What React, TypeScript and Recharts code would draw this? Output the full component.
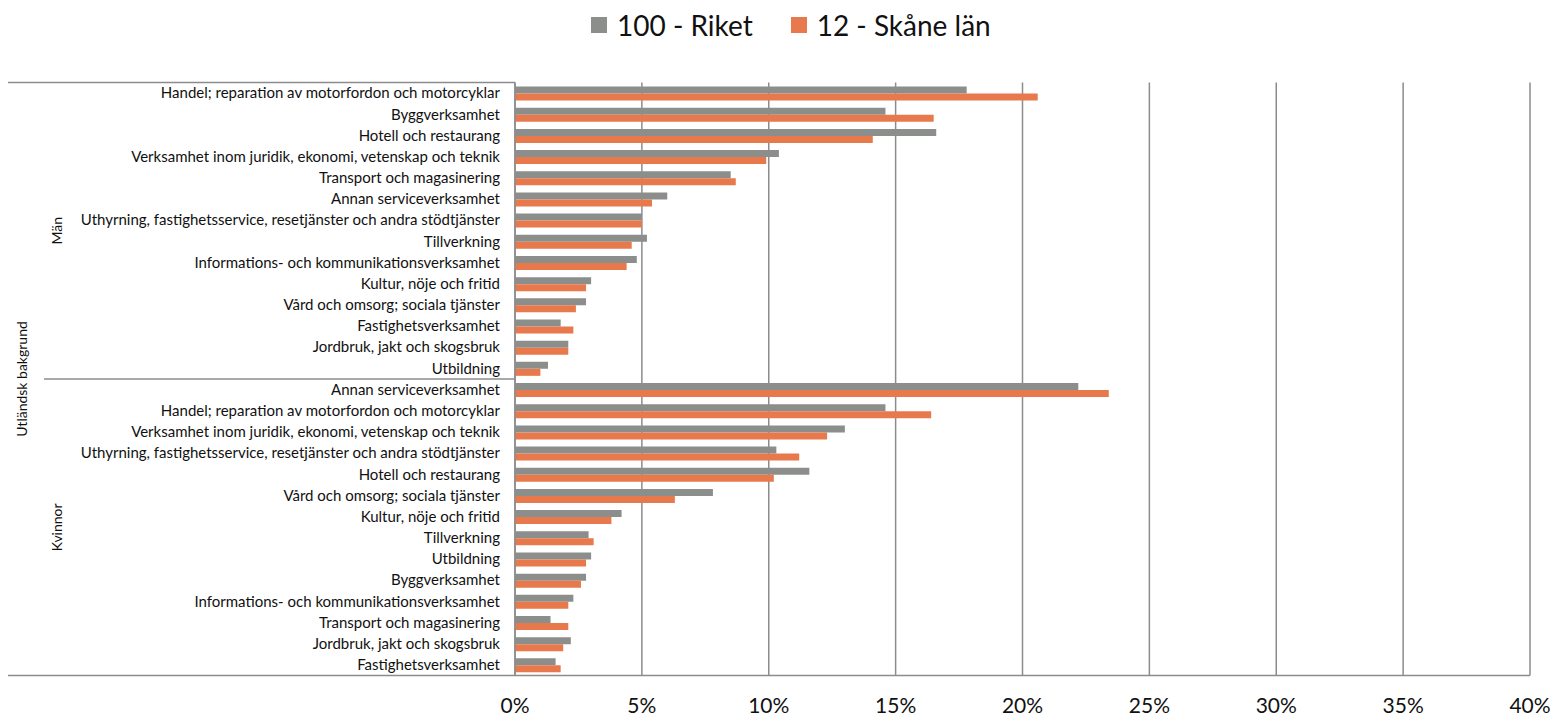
import React from 'react';
import { BarChart, Bar, XAxis, YAxis, CartesianGrid, Legend } from 'recharts';

const menCategories = [
  'Handel; reparation av motorfordon och motorcyklar',
  'Byggverksamhet',
  'Hotell och restaurang',
  'Verksamhet inom juridik, ekonomi, vetenskap och teknik',
  'Transport och magasinering',
  'Annan serviceverksamhet',
  'Uthyrning, fastighetsservice, resetjänster och andra stödtjänster',
  'Tillverkning',
  'Informations- och kommunikationsverksamhet',
  'Kultur, nöje och fritid',
  'Vård och omsorg; sociala tjänster',
  'Fastighetsverksamhet',
  'Jordbruk, jakt och skogsbruk',
  'Utbildning',
];
const womenCategories = [
  'Annan serviceverksamhet',
  'Handel; reparation av motorfordon och motorcyklar',
  'Verksamhet inom juridik, ekonomi, vetenskap och teknik',
  'Uthyrning, fastighetsservice, resetjänster och andra stödtjänster',
  'Hotell och restaurang',
  'Vård och omsorg; sociala tjänster',
  'Kultur, nöje och fritid',
  'Tillverkning',
  'Utbildning',
  'Byggverksamhet',
  'Informations- och kommunikationsverksamhet',
  'Transport och magasinering',
  'Jordbruk, jakt och skogsbruk',
  'Fastighetsverksamhet',
];

const riketMen = [17.8, 14.6, 16.6, 10.4, 8.5, 6.0, 5.0, 5.2, 4.8, 3.0, 2.8, 1.8, 2.1, 1.3];
const skaneMen = [20.6, 16.5, 14.1, 9.9, 8.7, 5.4, 5.0, 4.6, 4.4, 2.8, 2.4, 2.3, 2.1, 1.0];
const riketWomen = [22.2, 14.6, 13.0, 10.3, 11.6, 7.8, 4.2, 2.9, 3.0, 2.8, 2.3, 1.4, 2.2, 1.6];
const skaneWomen = [23.4, 16.4, 12.3, 11.2, 10.2, 6.3, 3.8, 3.1, 2.8, 2.6, 2.1, 2.1, 1.9, 1.8];

const xTicks = [0, 5, 10, 15, 20, 25, 30, 35, 40];
const groupLabels = ['Män', 'Kvinnor'];
const outerLabel = 'Utländsk bakgrund';
const seriesNames = ['100 - Riket', '12 - Skåne län'];

const GRAY = '#8B8E8B';
const ORANGE = '#E8794C';
const LINE = '#8C8C8C';
const FONT = 'Lato, "Noto Sans", sans-serif';
const LABEL_SIZE = 15;

const allLabels = [...menCategories, ...womenCategories];
const data = [
  ...menCategories.map((c, i) => ({ key: `m${i}`, label: c, riket: riketMen[i], skane: skaneMen[i] })),
  ...womenCategories.map((c, i) => ({ key: `k${i}`, label: c, riket: riketWomen[i], skane: skaneWomen[i] })),
];

const TICK_SIZE = 6;
const TICK_MARGIN = 9;
const LEFT_EDGE = 8;
const GROUP_EDGE = 44;

const CategoryTick = (props: any) => {
  const { x, y, payload } = props;
  const i: number = payload.index ?? props.index;
  const half: number = payload.offset ?? 0;
  const band = half * 2;
  const axisRight = x + TICK_SIZE + TICK_MARGIN;
  const n = allLabels.length;
  const nm = menCategories.length;
  const els: React.ReactNode[] = [];
  els.push(
    <text key="t" x={x} y={y} dy="0.35em" textAnchor="end" fontSize={LABEL_SIZE} fontFamily={FONT} fill="#111">
      {allLabels[i]}
    </text>
  );
  if (i === 0) {
    const top = y - half;
    els.push(<line key="top" x1={LEFT_EDGE} x2={axisRight} y1={top} y2={top} stroke={LINE} strokeWidth={1.5} />);
    const menMid = top + (nm / 2) * band;
    const womenMid = top + (nm + (n - nm) / 2) * band;
    const allMid = top + (n / 2) * band;
    els.push(
      <text key="g0" x={57} y={menMid} transform={`rotate(-90 57 ${menMid})`} textAnchor="middle" dy="0.35em" fontSize={14} fontFamily={FONT} fill="#111">{groupLabels[0]}</text>
    );
    els.push(
      <text key="g1" x={57} y={womenMid} transform={`rotate(-90 57 ${womenMid})`} textAnchor="middle" dy="0.35em" fontSize={14} fontFamily={FONT} fill="#111">{groupLabels[1]}</text>
    );
    els.push(
      <text key="g2" x={22} y={allMid} transform={`rotate(-90 22 ${allMid})`} textAnchor="middle" dy="0.35em" fontSize={14} fontFamily={FONT} fill="#111">{outerLabel}</text>
    );
  }
  if (i === nm) {
    const top = y - half;
    els.push(<line key="sep" x1={GROUP_EDGE} x2={axisRight} y1={top} y2={top} stroke={LINE} strokeWidth={1.5} />);
  }
  if (i === n - 1) {
    const bottom = y + half;
    els.push(<line key="bot" x1={LEFT_EDGE} x2={axisRight} y1={bottom} y2={bottom} stroke={LINE} strokeWidth={1.5} />);
  }
  return <g>{els}</g>;
};

const LegendContent = () => (
  <div style={{ display: 'flex', alignItems: 'center', fontFamily: FONT, fontSize: 28, color: '#111', whiteSpace: 'nowrap', lineHeight: '32px' }}>
    <span style={{ display: 'inline-block', width: 16, height: 16, background: GRAY, marginRight: 10 }} />
    <span style={{ marginRight: 38 }}>{seriesNames[0]}</span>
    <span style={{ display: 'inline-block', width: 16, height: 16, background: ORANGE, marginRight: 10 }} />
    <span>{seriesNames[1]}</span>
  </div>
);

export default function App() {
  return (
    <div style={{ position: 'absolute', left: 0, top: 0, width: 1554, height: 720, background: '#fff' }}>
      <BarChart
        width={1554}
        height={720}
        data={data}
        layout="vertical"
        margin={{ top: 82.5, right: 24, bottom: 0, left: 0 }}
        barCategoryGap="19%"
        barGap={0}
      >
        <CartesianGrid horizontal={false} stroke={LINE} strokeWidth={1.5} />
        <XAxis
          type="number"
          domain={[0, 40]}
          ticks={xTicks}
          tickFormatter={(v: number) => `${v}%`}
          axisLine={{ stroke: LINE, strokeWidth: 1.5 }}
          tickLine={false}
          tickMargin={17}
          height={44.5}
          tick={{ fontSize: 21, fontFamily: FONT, fill: '#111' }}
          interval={0}
        />
        <YAxis
          type="category"
          dataKey="key"
          width={515}
          axisLine={{ stroke: LINE, strokeWidth: 1.5 }}
          tickLine={false}
          tickMargin={TICK_MARGIN}
          tick={<CategoryTick />}
          interval={0}
        />
        <Legend
          verticalAlign="middle"
          align="center"
          layout="horizontal"
          wrapperStyle={{ top: 9, left: 591, width: 'auto' }}
          content={<LegendContent />}
        />
        <Bar dataKey="riket" name={seriesNames[0]} fill={GRAY} isAnimationActive={false} />
        <Bar dataKey="skane" name={seriesNames[1]} fill={ORANGE} isAnimationActive={false} />
      </BarChart>
    </div>
  );
}
